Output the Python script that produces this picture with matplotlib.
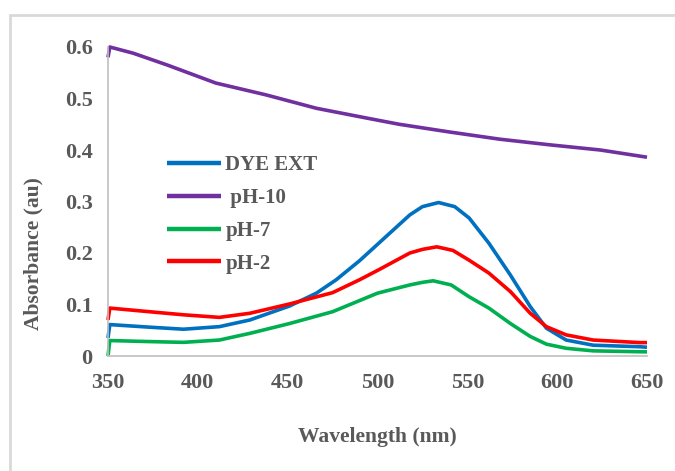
import matplotlib
matplotlib.use("Agg")
import matplotlib.pyplot as plt
from matplotlib.patches import Rectangle

# Data
dye_wl = [350, 351, 373, 392, 412, 429, 451, 466, 477, 490, 501, 518, 525, 534, 543, 551,
          562, 574, 585, 594, 605, 620, 646, 650]
dye_ext = [0.035, 0.061, 0.056, 0.052, 0.057, 0.070, 0.097, 0.122, 0.148, 0.185, 0.220, 0.274,
           0.290, 0.298, 0.290, 0.268, 0.219, 0.157, 0.096, 0.054, 0.031, 0.021, 0.018, 0.017]

ph10_wl = [350, 351, 364, 383, 410, 438, 466, 494, 512, 540, 568, 596, 624, 650]
ph10 = [0.580, 0.600, 0.588, 0.565, 0.530, 0.507, 0.481, 0.462, 0.450, 0.435, 0.421, 0.410,
        0.400, 0.386]

ph7_wl = [350, 351, 373, 392, 412, 429, 451, 475, 500, 518, 525, 531, 541, 551, 562, 574,
          585, 594, 605, 620, 650]
ph7 = [0.000, 0.030, 0.028, 0.0265, 0.031, 0.044, 0.063, 0.086, 0.122, 0.138, 0.143, 0.146,
       0.138, 0.115, 0.093, 0.063, 0.038, 0.023, 0.015, 0.010, 0.008]

ph2_wl = [350, 351, 373, 392, 412, 429, 451, 475, 490, 501, 518, 525, 533, 542, 551, 562,
          574, 585, 594, 605, 620, 646, 650]
ph2 = [0.070, 0.093, 0.086, 0.080, 0.075, 0.083, 0.101, 0.123, 0.148, 0.168, 0.200, 0.207,
       0.212, 0.205, 0.186, 0.161, 0.125, 0.083, 0.057, 0.041, 0.031, 0.026, 0.026]

series_labels = ["DYE EXT", " pH-10", "pH-7", "pH-2"]
series_colors = ["#0070C0", "#7030A0", "#00B050", "#FF0000"]
x_ticks = [350, 400, 450, 500, 550, 600, 650]
y_ticks = [0, 0.1, 0.2, 0.3, 0.4, 0.5, 0.6]
y_tick_labels = ["0", "0.1", "0.2", "0.3", "0.4", "0.5", "0.6"]

plt.rcParams['font.family'] = ['Liberation Serif', 'DejaVu Serif']

fig = plt.figure(figsize=(6.75, 4.71), dpi=100)
ax = fig.add_axes([108/675, 1 - 356/471, (647-108)/675, (356-47)/471])

for xs, ys, lab, col in zip([dye_wl, ph10_wl, ph7_wl, ph2_wl], [dye_ext, ph10, ph7, ph2],
                            series_labels, series_colors):
    ax.plot(xs, ys, color=col, lw=2.6, label=lab, clip_on=False,
            solid_capstyle='butt', solid_joinstyle='round')

ax.set_xlim(350, 650)
ax.set_ylim(0, 0.6)
ax.set_xticks(x_ticks)
ax.set_yticks(y_ticks)
ax.set_yticklabels(y_tick_labels)
ax.tick_params(axis='both', length=0, labelsize=16, labelcolor='#595959')
ax.tick_params(axis='y', pad=11)
ax.tick_params(axis='x', pad=12)
for lbl in ax.get_xticklabels() + ax.get_yticklabels():
    lbl.set_fontweight('bold')
for s in ['top', 'right']:
    ax.spines[s].set_visible(False)
for s in ['left', 'bottom']:
    ax.spines[s].set_color('#bfbfbf')
    ax.spines[s].set_linewidth(1.2)

fig.text(377/675, 1 - 437/471, "Wavelength (nm)", ha='center', va='center',
         fontsize=15.5, fontweight='bold', color='#595959')
fig.text(33/675, 1 - 254/471, "Absorbance (au)", ha='center', va='center',
         rotation=90, fontsize=15.5, fontweight='bold', color='#595959')

leg = ax.legend(loc='upper left', bbox_to_anchor=(167/675, 1 - 155/471),
                bbox_transform=fig.transFigure, frameon=False,
                prop={'weight': 'bold', 'size': 15}, handlelength=2.6,
                handletextpad=0.2, labelspacing=0.62, borderaxespad=0, borderpad=0)
for t in leg.get_texts():
    t.set_color('#595959')
for h in leg.get_lines():
    h.set_linewidth(3.2)

fig.patches.append(Rectangle((10/675, -0.1), 1.2, 1 - 15/471 + 0.1,
                             transform=fig.transFigure, fill=False,
                             edgecolor='#d9d9d9', lw=2))

fig.savefig("out.png", dpi=100)
